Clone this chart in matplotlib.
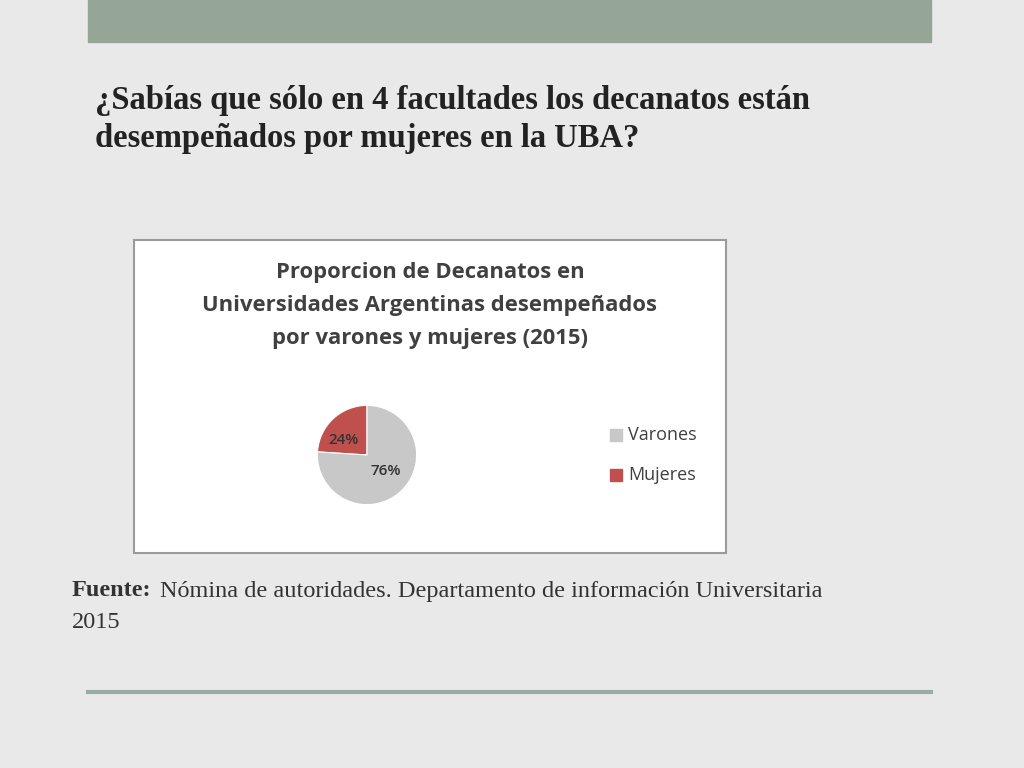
import matplotlib
matplotlib.use('Agg')
import matplotlib.pyplot as plt
from matplotlib.patches import Rectangle

# ---- data ----
categories = ['Mujeres', 'Varones']
shares = [24, 76]
colors = ['#c0504d', '#c8c8c8']

W, H = 1024, 768
fig = plt.figure(figsize=(W / 100, H / 100), dpi=100)
fig.patch.set_facecolor('#e9e9e9')


def fx(x):
    return x / W


def fy(y):
    return 1 - y / H


# top bar and bottom rule
fig.patches.append(Rectangle((fx(88), fy(42)), fx(931) - fx(88), 42 / H,
                             transform=fig.transFigure, color='#96a696'))
fig.add_artist(plt.Line2D([fx(88), fx(931)], [fy(692), fy(692)],
                          transform=fig.transFigure, color='#9aaaa4', lw=3))

# slide heading
serif = 'Liberation Serif'
fig.text(fx(95), fy(100), '¿Sabías que sólo en 4 facultades los decanatos están',
         family=serif, weight='bold', size=23.5, color='#222222', va='center')
fig.text(fx(95), fy(138), 'desempeñados por mujeres en la UBA?',
         family=serif, weight='bold', size=23.5, color='#222222', va='center')

# chart box
fig.patches.append(Rectangle((fx(134), fy(553)), (726 - 134) / W, (553 - 240) / H,
                             transform=fig.transFigure, facecolor='white',
                             edgecolor='#9a9a9a', lw=1.5))
for i, line in enumerate(['Proporcion de Decanatos en',
                          'Universidades Argentinas desempeñados',
                          'por varones y mujeres (2015)']):
    fig.text(fx(430), fy(272 + 33 * i), line, family='Open Sans', weight='bold',
             size=15.8, color='#404040', ha='center', va='center')

# pie
ax = fig.add_axes([fx(305), fy(517), 124 / W, 124 / H], zorder=5)
ax.pie(shares, colors=colors, startangle=90, counterclock=True,
       wedgeprops=dict(edgecolor='white', linewidth=0.8))
ax.set_aspect('equal')
ax.text(-0.48, 0.3, f'{shares[0]}%', ha='center', va='center',
        family='Open Sans', size=11, weight='semibold', color='#333333')
ax.text(0.37, -0.33, f'{shares[1]}%', ha='center', va='center',
        family='Open Sans', size=11, weight='semibold', color='#333333')

# legend
for name, y in [('Varones', 435), ('Mujeres', 475)]:
    c = colors[categories.index(name)]
    fig.patches.append(Rectangle((fx(610), fy(y + 6)), 12 / W, 12 / H,
                                 transform=fig.transFigure, color=c))
    fig.text(fx(628), fy(y), name, family='Open Sans', size=13,
             color='#404040', va='center')

# source
fig.text(fx(72), fy(591), 'Fuente:', family=serif, weight='bold', size=17.5,
         color='#333333', va='center')
fig.text(fx(160), fy(591), 'Nómina de autoridades. Departamento de información Universitaria',
         family=serif, size=17.5, color='#333333', va='center')
fig.text(fx(72), fy(622), '2015', family=serif, size=17.5, color='#333333', va='center')

fig.savefig('out.png', dpi=100, facecolor=fig.get_facecolor())
